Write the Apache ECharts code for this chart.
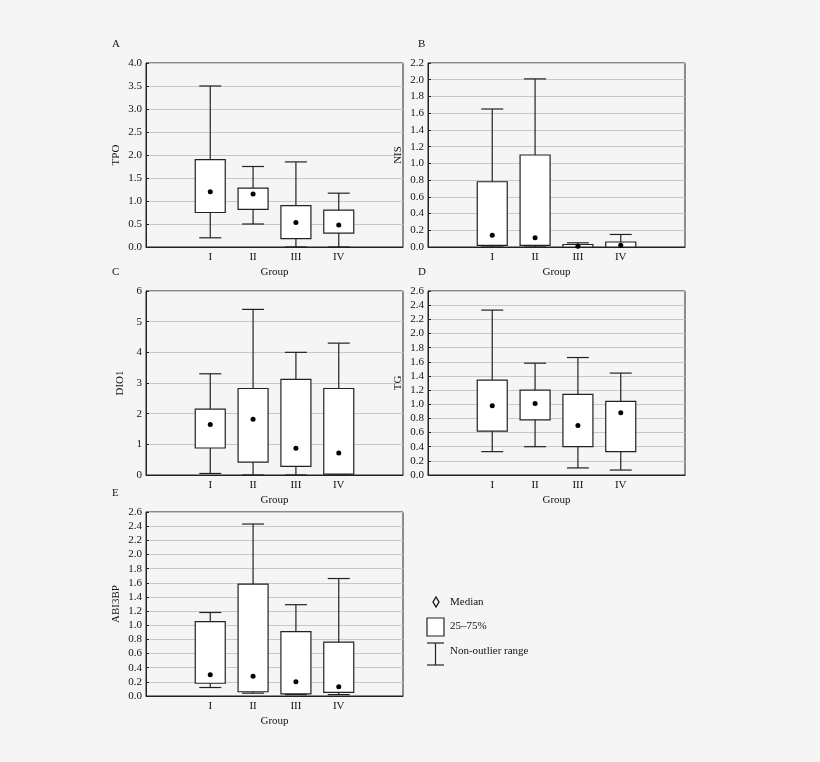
<!DOCTYPE html>
<html><head><meta charset="utf-8">
<script src="https://cdn.jsdelivr.net/npm/echarts@6/dist/echarts.min.js"></script>
<style>html,body{margin:0;background:#f5f5f5}#c{width:820px;height:762px}</style>
</head><body><div id="c"></div>
<script>
const categories = ['', 'I', 'II', 'III', 'IV', ''];
// each row: [min, q1, median, q3, max]
const tpo   = [[0.2,0.75,1.2,1.9,3.5],[0.5,0.82,1.15,1.28,1.75],[0,0.18,0.53,0.9,1.85],[0,0.3,0.48,0.8,1.17]];
const nis   = [[0,0.02,0.14,0.78,1.65],[0,0.02,0.11,1.1,2.01],[0,0,0.01,0.03,0.05],[0,0,0.02,0.06,0.15]];
const dio1  = [[0.05,0.88,1.65,2.15,3.3],[0,0.42,1.82,2.82,5.4],[0,0.28,0.87,3.12,4.0],[0,0.03,0.72,2.82,4.3]];
const tg    = [[0.33,0.62,0.98,1.34,2.33],[0.4,0.78,1.01,1.2,1.58],[0.1,0.4,0.7,1.14,1.66],[0.07,0.33,0.88,1.04,1.44]];
const abi3bp= [[0.12,0.18,0.3,1.05,1.18],[0.04,0.06,0.28,1.58,2.43],[0.02,0.03,0.2,0.91,1.29],[0.02,0.05,0.13,0.76,1.66]];
const panels = [
  {letter:'A', name:'TPO', data:tpo, max:4, interval:0.5, dec:1},
  {letter:'B', name:'NIS', data:nis, max:2.2, interval:0.2, dec:1},
  {letter:'C', name:'DIO1', data:dio1, max:6, interval:1, dec:0},
  {letter:'D', name:'TG', data:tg, max:2.6, interval:0.2, dec:1},
  {letter:'E', name:'ABI3BP', data:abi3bp, max:2.6, interval:0.2, dec:1}
];
const boxes = [[146,63],[428,63],[146,291],[428,291],[146,512]];
const W=257,H=184;
const font='Liberation Serif';
const grid=[],xAxis=[],yAxis=[],series=[],graphic=[];
panels.forEach((p,i)=>{
  const [l,t]=boxes[i];
  grid.push({left:l,top:t,width:W,height:H,show:true,borderColor:'#222',borderWidth:1,backgroundColor:'transparent'});
  xAxis.push({type:'category',gridIndex:i,data:categories,boundaryGap:true,
    axisLine:{lineStyle:{color:'#222'}},axisTick:{inside:true,length:3,lineStyle:{color:'#222'}},
    axisLabel:{color:'#111',fontFamily:font,fontSize:11,margin:5},
    name:'Group',nameLocation:'middle',nameGap:20,nameTextStyle:{color:'#111',fontFamily:font,fontSize:11}});
  yAxis.push({type:'value',gridIndex:i,min:0,max:p.max,interval:p.interval,
    axisLine:{show:true,lineStyle:{color:'#222'}},axisTick:{show:true,inside:true,length:3,lineStyle:{color:'#222'}},
    splitLine:{lineStyle:{color:'#c8c8c8'}},
    axisLabel:{color:'#111',fontFamily:font,fontSize:11,margin:4,formatter:v=>v.toFixed(p.dec)},
    name:p.name,nameLocation:'middle',nameGap:p.dec?24:20,nameTextStyle:{color:'#111',fontFamily:font,fontSize:11}});
  series.push({type:'custom',xAxisIndex:i,yAxisIndex:i,
    data:p.data.map((d,k)=>[k+1].concat(d)),
    renderItem:(params,api)=>{
      const x=api.value(0);
      const pt=v=>api.coord([x,v]);
      const mn=pt(api.value(1)),q1=pt(api.value(2)),md=pt(api.value(3)),q3=pt(api.value(4)),mx=pt(api.value(5));
      const cx=mn[0],bw=15,cw=11;
      const st={stroke:'#222',lineWidth:1.2,fill:null};
      return {type:'group',children:[
        {type:'line',shape:{x1:cx,y1:mn[1],x2:cx,y2:mx[1]},style:st},
        {type:'line',shape:{x1:cx-cw,y1:mn[1],x2:cx+cw,y2:mn[1]},style:st},
        {type:'line',shape:{x1:cx-cw,y1:mx[1],x2:cx+cw,y2:mx[1]},style:st},
        {type:'rect',shape:{x:cx-bw,y:q3[1],width:2*bw,height:q1[1]-q3[1]},style:{stroke:'#222',lineWidth:1.2,fill:'#fff'}},
        {type:'circle',shape:{cx:cx,cy:md[1],r:2.5},style:{fill:'#000'}}
      ]};
    }});
  graphic.push({type:'text',left:l-(l>300?10:34),top:t-24,style:{text:p.letter,font:'11px '+font,fill:'#111'}});
});
// legend
graphic.push(
  {type:'polygon',shape:{points:[[436,597],[439,602],[436,607],[433,602]]},style:{fill:'none',stroke:'#111',lineWidth:1.3}},
  {type:'text',left:450,top:597,style:{text:'Median',font:'11px '+font,fill:'#111'}},
  {type:'rect',shape:{x:427,y:618,width:17,height:18},style:{fill:'#fff',stroke:'#222',lineWidth:1.2}},
  {type:'text',left:450,top:621,style:{text:'25–75%',font:'11px '+font,fill:'#111'}},
  {type:'line',shape:{x1:427,y1:643,x2:444,y2:643},style:{stroke:'#222',lineWidth:1.2}},
  {type:'line',shape:{x1:435.5,y1:643,x2:435.5,y2:665},style:{stroke:'#222',lineWidth:1.2}},
  {type:'line',shape:{x1:427,y1:665,x2:444,y2:665},style:{stroke:'#222',lineWidth:1.2}},
  {type:'text',left:450,top:646,style:{text:'Non-outlier range',font:'11px '+font,fill:'#111'}}
);
const chart=echarts.init(document.getElementById('c'));
chart.setOption({backgroundColor:'#f5f5f5',animation:false,grid,xAxis,yAxis,series,graphic});
</script></body></html>
